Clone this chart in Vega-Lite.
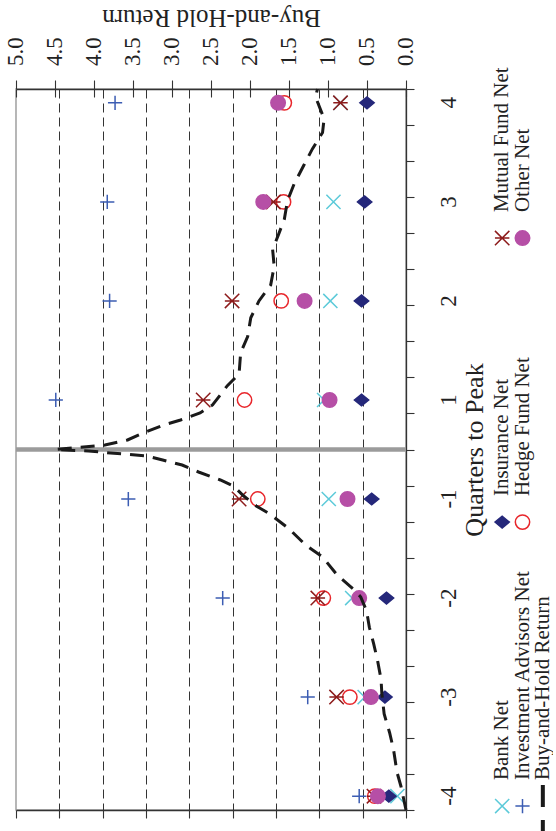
{
  "$schema": "https://vega.github.io/schema/vega-lite/v6.json",
  "background": "white",
  "padding": {"left": 4, "top": 3, "right": 0, "bottom": 0},
  "spacing": 3,
  "datasets": {
    "peak": [{"t": 0}],
    "xticks": [
      {"tick": 0}, {"tick": 0.5}, {"tick": 1}, {"tick": 1.5}, {"tick": 2}, {"tick": 2.5},
      {"tick": 3}, {"tick": 3.5}, {"tick": 4}, {"tick": 4.5}, {"tick": 5}
    ],
    "quarters": [
      {"quarter": -4, "mid": -3.5}, {"quarter": -3, "mid": -2.5}, {"quarter": -2, "mid": -1.5}, {"quarter": -1, "mid": -0.5},
      {"quarter": 1, "mid": 0.5}, {"quarter": 2, "mid": 1.5}, {"quarter": 3, "mid": 2.5}, {"quarter": 4, "mid": 3.5}
    ],
    "points": [
      {"series": "Bank Net", "quarter": -4, "mid": -3.5, "value": 0.11},
      {"series": "Bank Net", "quarter": -3, "mid": -2.5, "value": 0.53},
      {"series": "Bank Net", "quarter": -2, "mid": -1.5, "value": 0.69},
      {"series": "Bank Net", "quarter": -1, "mid": -0.5, "value": 0.99},
      {"series": "Bank Net", "quarter": 1, "mid": 0.5, "value": 1.05},
      {"series": "Bank Net", "quarter": 2, "mid": 1.5, "value": 0.97},
      {"series": "Bank Net", "quarter": 3, "mid": 2.5, "value": 0.93},
      {"series": "Bank Net", "quarter": 4, "mid": 3.5, "value": 0.84},
      {"series": "Investment Advisors Net", "quarter": -4, "mid": -3.5, "value": 0.6},
      {"series": "Investment Advisors Net", "quarter": -3, "mid": -2.5, "value": 1.26},
      {"series": "Investment Advisors Net", "quarter": -2, "mid": -1.5, "value": 2.35},
      {"series": "Investment Advisors Net", "quarter": -1, "mid": -0.5, "value": 3.56},
      {"series": "Investment Advisors Net", "quarter": 1, "mid": 0.5, "value": 4.49},
      {"series": "Investment Advisors Net", "quarter": 2, "mid": 1.5, "value": 3.8},
      {"series": "Investment Advisors Net", "quarter": 3, "mid": 2.5, "value": 3.83},
      {"series": "Investment Advisors Net", "quarter": 4, "mid": 3.5, "value": 3.73},
      {"series": "Insurance Net", "quarter": -4, "mid": -3.5, "value": 0.22},
      {"series": "Insurance Net", "quarter": -3, "mid": -2.5, "value": 0.27},
      {"series": "Insurance Net", "quarter": -2, "mid": -1.5, "value": 0.25},
      {"series": "Insurance Net", "quarter": -1, "mid": -0.5, "value": 0.44},
      {"series": "Insurance Net", "quarter": 1, "mid": 0.5, "value": 0.57},
      {"series": "Insurance Net", "quarter": 2, "mid": 1.5, "value": 0.57},
      {"series": "Insurance Net", "quarter": 3, "mid": 2.5, "value": 0.53},
      {"series": "Insurance Net", "quarter": 4, "mid": 3.5, "value": 0.5},
      {"series": "Hedge Fund Net", "quarter": -4, "mid": -3.5, "value": 0.4},
      {"series": "Hedge Fund Net", "quarter": -3, "mid": -2.5, "value": 0.72},
      {"series": "Hedge Fund Net", "quarter": -2, "mid": -1.5, "value": 1.06},
      {"series": "Hedge Fund Net", "quarter": -1, "mid": -0.5, "value": 1.9},
      {"series": "Hedge Fund Net", "quarter": 1, "mid": 0.5, "value": 2.07},
      {"series": "Hedge Fund Net", "quarter": 2, "mid": 1.5, "value": 1.6},
      {"series": "Hedge Fund Net", "quarter": 3, "mid": 2.5, "value": 1.57},
      {"series": "Hedge Fund Net", "quarter": 4, "mid": 3.5, "value": 1.56},
      {"series": "Mutual Fund Net", "quarter": -4, "mid": -3.5, "value": 0.41},
      {"series": "Mutual Fund Net", "quarter": -3, "mid": -2.5, "value": 0.89},
      {"series": "Mutual Fund Net", "quarter": -2, "mid": -1.5, "value": 1.13},
      {"series": "Mutual Fund Net", "quarter": -1, "mid": -0.5, "value": 2.14},
      {"series": "Mutual Fund Net", "quarter": 1, "mid": 0.5, "value": 2.6},
      {"series": "Mutual Fund Net", "quarter": 2, "mid": 1.5, "value": 2.23},
      {"series": "Mutual Fund Net", "quarter": 3, "mid": 2.5, "value": 1.7},
      {"series": "Mutual Fund Net", "quarter": 4, "mid": 3.5, "value": 0.84},
      {"series": "Other Net", "quarter": -4, "mid": -3.5, "value": 0.36},
      {"series": "Other Net", "quarter": -3, "mid": -2.5, "value": 0.45},
      {"series": "Other Net", "quarter": -2, "mid": -1.5, "value": 0.6},
      {"series": "Other Net", "quarter": -1, "mid": -0.5, "value": 0.75},
      {"series": "Other Net", "quarter": 1, "mid": 0.5, "value": 0.98},
      {"series": "Other Net", "quarter": 2, "mid": 1.5, "value": 1.3},
      {"series": "Other Net", "quarter": 3, "mid": 2.5, "value": 1.83},
      {"series": "Other Net", "quarter": 4, "mid": 3.5, "value": 1.64}
    ],
    "buyhold": [
      {"t": -3.64, "ret": 0.0},
      {"t": -3.4, "ret": 0.065},
      {"t": -3.26, "ret": 0.115},
      {"t": -3.03, "ret": 0.16},
      {"t": -2.86, "ret": 0.21},
      {"t": -2.67, "ret": 0.28},
      {"t": -2.46, "ret": 0.31},
      {"t": -2.32, "ret": 0.32},
      {"t": -2.13, "ret": 0.365},
      {"t": -1.96, "ret": 0.415},
      {"t": -1.795, "ret": 0.47},
      {"t": -1.63, "ret": 0.505},
      {"t": -1.49, "ret": 0.58},
      {"t": -1.42, "ret": 0.66},
      {"t": -1.27, "ret": 0.88},
      {"t": -1.085, "ret": 1.07},
      {"t": -0.966, "ret": 1.285},
      {"t": -0.8, "ret": 1.5},
      {"t": -0.65, "ret": 1.75},
      {"t": -0.57, "ret": 1.92},
      {"t": -0.47, "ret": 2.08},
      {"t": -0.37, "ret": 2.21},
      {"t": -0.308, "ret": 2.38},
      {"t": -0.227, "ret": 2.66},
      {"t": -0.157, "ret": 2.87},
      {"t": -0.106, "ret": 3.12},
      {"t": -0.066, "ret": 3.32},
      {"t": -0.035, "ret": 3.79},
      {"t": -0.015, "ret": 4.07},
      {"t": 0.0, "ret": 4.5},
      {"t": 0.045, "ret": 3.86},
      {"t": 0.096, "ret": 3.57},
      {"t": 0.167, "ret": 3.37},
      {"t": 0.247, "ret": 3.11},
      {"t": 0.298, "ret": 2.89},
      {"t": 0.369, "ret": 2.64},
      {"t": 0.45, "ret": 2.48},
      {"t": 0.645, "ret": 2.29},
      {"t": 0.763, "ret": 2.14},
      {"t": 0.976, "ret": 2.12},
      {"t": 1.14, "ret": 2.03},
      {"t": 1.33, "ret": 1.99},
      {"t": 1.5, "ret": 1.885},
      {"t": 1.66, "ret": 1.735},
      {"t": 1.85, "ret": 1.69},
      {"t": 2.02, "ret": 1.71},
      {"t": 2.18, "ret": 1.63},
      {"t": 2.325, "ret": 1.56},
      {"t": 2.51, "ret": 1.52},
      {"t": 2.68, "ret": 1.435},
      {"t": 2.87, "ret": 1.31},
      {"t": 3.035, "ret": 1.2},
      {"t": 3.2, "ret": 1.07},
      {"t": 3.34, "ret": 1.05},
      {"t": 3.56, "ret": 1.16},
      {"t": 3.64, "ret": 1.135}
    ],
    "legend": [
      {"series": "Bank Net", "col": 1, "slot": 0},
      {"series": "Investment Advisors Net", "col": 2, "slot": 0},
      {"series": "Buy-and-Hold Return", "col": 3, "slot": 0},
      {"series": "Insurance Net", "col": 1, "slot": 1},
      {"series": "Hedge Fund Net", "col": 2, "slot": 1},
      {"series": "Mutual Fund Net", "col": 1, "slot": 2},
      {"series": "Other Net", "col": 2, "slot": 2}
    ]
  },
  "hconcat": [
    {
      "width": 390,
      "height": 721,
      "resolve": {"axis": {"x": "independent", "y": "independent"}},
      "layer": [
        {
          "data": {"name": "peak"},
          "mark": {"type": "rule", "color": "#9b9b9b", "strokeWidth": 4.5},
          "encoding": {
            "y": {
              "field": "t", "type": "quantitative",
              "scale": {"domain": [-3.64, 3.64], "nice": false, "zero": false},
              "axis": {
                "orient": "right", "title": null, "labels": false, "grid": false,
                "tickSize": 8,
                "values": [-3.64, -3.276, -2.912, -2.548, -2.184, -1.82, -1.456, -1.092, -0.728, -0.364, 0, 0.364, 0.728, 1.092, 1.456, 1.82, 2.184, 2.548, 2.912, 3.276, 3.64]
              }
            },
            "x": {
              "datum": 5, "type": "quantitative",
              "scale": {"domain": [0, 5], "reverse": true, "nice": false, "zero": false},
              "axis": {
                "orient": "top", "title": null, "labels": false, "domain": false, "grid": false,
                "tickSize": -8,
                "values": [0, 0.5, 1, 1.5, 2, 2.5, 3, 3.5, 4, 4.5, 5]
              }
            },
            "x2": {"datum": 0}
          }
        },
        {
          "data": {"name": "points"},
          "mark": {"type": "point", "strokeWidth": 1.5, "opacity": 1},
          "encoding": {
            "x": {
              "field": "value", "type": "quantitative",
              "scale": {"domain": [0, 5], "reverse": true, "nice": false, "zero": false},
              "axis": {
                "orient": "bottom", "title": null, "labels": false, "tickSize": 8,
                "values": [0, 0.5556, 1.1111, 1.6667, 2.2222, 2.7778, 3.3333, 3.8889, 4.4444, 5],
                "grid": true, "gridColor": "#333333", "gridDash": [9, 5], "gridWidth": 1,
                "gridOpacity": {"condition": {"test": "datum.value < 0.01 || datum.value > 4.99", "value": 0}, "value": 1}
              }
            },
            "y": {
              "field": "mid", "type": "quantitative",
              "scale": {"domain": [-3.64, 3.64], "nice": false, "zero": false},
              "axis": null
            },
            "shape": {
              "field": "series", "type": "nominal", "legend": null,
              "scale": {
                "domain": ["Bank Net", "Investment Advisors Net", "Insurance Net", "Hedge Fund Net", "Mutual Fund Net", "Other Net"],
                "range": ["M-1,-1L1,1M-1,1L1,-1", "M-1,0L1,0M0,-1L0,1", "M-1,0L0,-0.82L1,0L0,0.82Z", "circle", "M-1,-1L1,1M-1,1L1,-1M-1,0L1,0", "circle"]
              }
            },
            "fill": {
              "field": "series", "type": "nominal", "legend": null,
              "scale": {
                "domain": ["Bank Net", "Investment Advisors Net", "Insurance Net", "Hedge Fund Net", "Mutual Fund Net", "Other Net"],
                "range": ["transparent", "transparent", "#25287a", "transparent", "transparent", "#b64fa6"]
              }
            },
            "stroke": {
              "field": "series", "type": "nominal", "legend": null,
              "scale": {
                "domain": ["Bank Net", "Investment Advisors Net", "Insurance Net", "Hedge Fund Net", "Mutual Fund Net", "Other Net"],
                "range": ["#5ccad9", "#3c5db3", "#25287a", "#e8262b", "#8d1b1b", "#b64fa6"]
              }
            },
            "size": {
              "field": "series", "type": "nominal", "legend": null,
              "scale": {
                "domain": ["Bank Net", "Investment Advisors Net", "Insurance Net", "Hedge Fund Net", "Mutual Fund Net", "Other Net"],
                "range": [200, 210, 225, 115, 225, 150]
              }
            }
          }
        },
        {
          "data": {"name": "buyhold"},
          "mark": {"type": "line", "color": "#1a1a1a", "strokeWidth": 3, "strokeDash": [14, 9]},
          "encoding": {
            "x": {
              "field": "ret", "type": "quantitative",
              "scale": {"domain": [0, 5], "reverse": true, "nice": false, "zero": false},
              "axis": {
                "orient": "top", "labels": false, "tickSize": 9, "grid": false,
                "values": [0, 0.5, 1, 1.5, 2, 2.5, 3, 3.5, 4, 4.5, 5],
                "title": "Buy-and-Hold Return", "titleAngle": 180, "titleBaseline": "top",
                "titlePadding": 50, "titleFontSize": 25
              }
            },
            "y": {
              "field": "t", "type": "quantitative",
              "scale": {"domain": [-3.64, 3.64], "nice": false, "zero": false},
              "axis": {
                "orient": "right", "labels": false, "ticks": false, "domain": false, "grid": false,
                "title": "Quarters to Peak", "titleAngle": 270, "titleBaseline": "alphabetic",
                "titlePadding": 76, "titleFontSize": 26
              }
            },
            "order": {"field": "t", "type": "quantitative"}
          }
        },
        {
          "data": {"name": "xticks"},
          "mark": {"type": "text", "angle": 270, "align": "left", "baseline": "middle", "dx": 23, "fontSize": 23, "font": "Liberation Serif", "color": "#222222"},
          "encoding": {
            "x": {
              "field": "tick", "type": "quantitative",
              "scale": {"domain": [0, 5], "reverse": true, "nice": false, "zero": false},
              "axis": null
            },
            "y": {
              "datum": 3.64, "type": "quantitative",
              "scale": {"domain": [-3.64, 3.64], "nice": false, "zero": false},
              "axis": null
            },
            "text": {"field": "tick", "type": "quantitative", "format": ".1f"}
          }
        },
        {
          "data": {"name": "quarters"},
          "mark": {"type": "text", "angle": 270, "align": "center", "baseline": "top", "dy": 32, "fontSize": 23, "font": "Liberation Serif", "color": "#222222"},
          "encoding": {
            "x": {
              "datum": 0, "type": "quantitative",
              "scale": {"domain": [0, 5], "reverse": true, "nice": false, "zero": false},
              "axis": null
            },
            "y": {
              "field": "mid", "type": "quantitative",
              "scale": {"domain": [-3.64, 3.64], "nice": false, "zero": false},
              "axis": null
            },
            "text": {"field": "quarter", "type": "nominal"}
          }
        }
      ]
    },
    {
      "width": 61,
      "height": 721,
      "view": {"stroke": null},
      "data": {"name": "legend"},
      "encoding": {
        "x": {"field": "col", "type": "quantitative", "scale": {"domain": [0.5, 3.5], "nice": false, "zero": false}, "axis": null},
        "y": {"field": "slot", "type": "quantitative", "scale": {"domain": [-0.014, 2.525], "nice": false, "zero": false}, "axis": null}
      },
      "layer": [
        {
          "transform": [{"filter": "datum.series !== 'Buy-and-Hold Return'"}],
          "mark": {"type": "point", "strokeWidth": 1.5, "opacity": 1},
          "encoding": {
            "shape": {
              "field": "series", "type": "nominal", "legend": null,
              "scale": {
                "domain": ["Bank Net", "Investment Advisors Net", "Insurance Net", "Hedge Fund Net", "Mutual Fund Net", "Other Net"],
                "range": ["M-1,-1L1,1M-1,1L1,-1", "M-1,0L1,0M0,-1L0,1", "M-1,0L0,-0.82L1,0L0,0.82Z", "circle", "M-1,-1L1,1M-1,1L1,-1M-1,0L1,0", "circle"]
              }
            },
            "fill": {
              "field": "series", "type": "nominal", "legend": null,
              "scale": {
                "domain": ["Bank Net", "Investment Advisors Net", "Insurance Net", "Hedge Fund Net", "Mutual Fund Net", "Other Net"],
                "range": ["transparent", "transparent", "#25287a", "transparent", "transparent", "#b64fa6"]
              }
            },
            "stroke": {
              "field": "series", "type": "nominal", "legend": null,
              "scale": {
                "domain": ["Bank Net", "Investment Advisors Net", "Insurance Net", "Hedge Fund Net", "Mutual Fund Net", "Other Net"],
                "range": ["#5ccad9", "#3c5db3", "#25287a", "#e8262b", "#8d1b1b", "#b64fa6"]
              }
            },
            "size": {
              "field": "series", "type": "nominal", "legend": null,
              "scale": {
                "domain": ["Bank Net", "Investment Advisors Net", "Insurance Net", "Hedge Fund Net", "Mutual Fund Net", "Other Net"],
                "range": [200, 210, 225, 115, 225, 150]
              }
            }
          }
        },
        {
          "transform": [{"filter": "datum.series === 'Buy-and-Hold Return'"}],
          "mark": {"type": "point", "shape": "M0,-1L0,1", "size": 2116, "filled": false, "opacity": 1, "color": "#1a1a1a", "strokeWidth": 4, "strokeDash": [22, 13], "yOffset": 2}
        },
        {
          "mark": {"type": "text", "angle": 270, "align": "left", "baseline": "middle", "dx": 26, "fontSize": 21, "font": "Liberation Serif", "color": "#222222"},
          "encoding": {"text": {"field": "series", "type": "nominal"}}
        }
      ]
    }
  ],
  "config": {
    "font": "Liberation Serif",
    "view": {"stroke": "#a5a5a5", "strokeWidth": 1.6},
    "axis": {
      "labelFont": "Liberation Serif", "titleFont": "Liberation Serif",
      "labelColor": "#222222", "titleColor": "#222222", "titleFontWeight": "normal",
      "labelFontSize": 22, "titleFontSize": 26,
      "domainColor": "#333333", "tickColor": "#333333", "domainWidth": 1.3, "tickWidth": 1.1
    }
  }
}
